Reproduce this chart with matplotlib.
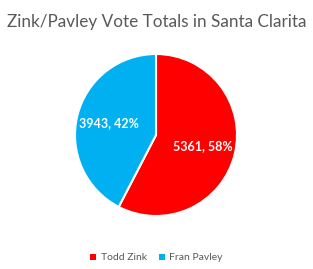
import matplotlib
matplotlib.use("Agg")
import matplotlib.pyplot as plt
from matplotlib.patches import Patch
import numpy as np

labels = ["Todd Zink", "Fran Pavley"]
votes = [5361, 3943]
pcts = [58, 42]
colors = ["#FF0000", "#00B0F0"]
title = "Zink/Pavley Vote Totals in Santa Clarita"

plt.rcParams['font.family'] = ['Lato', 'DejaVu Sans']
fig = plt.figure(figsize=(3.13, 2.69), dpi=100)
fig.text(0.5, 1 - 22/269, title, ha='center', va='center', fontsize=12.3, color='#595959')

cx, cy, r = 156/313, 1 - 135/269, 81
ax = fig.add_axes([cx - r/313, cy - r/269, 2*r/313, 2*r/269])
wedges, _ = ax.pie(votes, colors=colors, startangle=90, counterclock=False,
                   wedgeprops=dict(edgecolor='white', linewidth=1.5))
ax.set_aspect('equal')
ax.set_xlim(-1, 1); ax.set_ylim(-1, 1)
ax.axis('off')

total = sum(votes)
start = 90
for i, (v, p) in enumerate(zip(votes, pcts)):
    ang = start - 360 * v / total / 2
    start -= 360 * v / total
    rr = 0.6
    x, y = rr*np.cos(np.radians(ang)), rr*np.sin(np.radians(ang))
    ax.text(x, y, f"{v}, {p}%", ha='center', va='center', color='white',
            fontsize=9, fontweight='bold')

handles = [Patch(facecolor=c, edgecolor='none') for c in colors]
fig.legend(handles, labels, loc='center', bbox_to_anchor=(0.5, 1 - 258/269), ncol=2,
           frameon=False, fontsize=7.5, handlelength=0.6, handleheight=0.6,
           handletextpad=0.4, columnspacing=1.2, labelcolor='#595959')
fig.savefig("out.png", dpi=100)
